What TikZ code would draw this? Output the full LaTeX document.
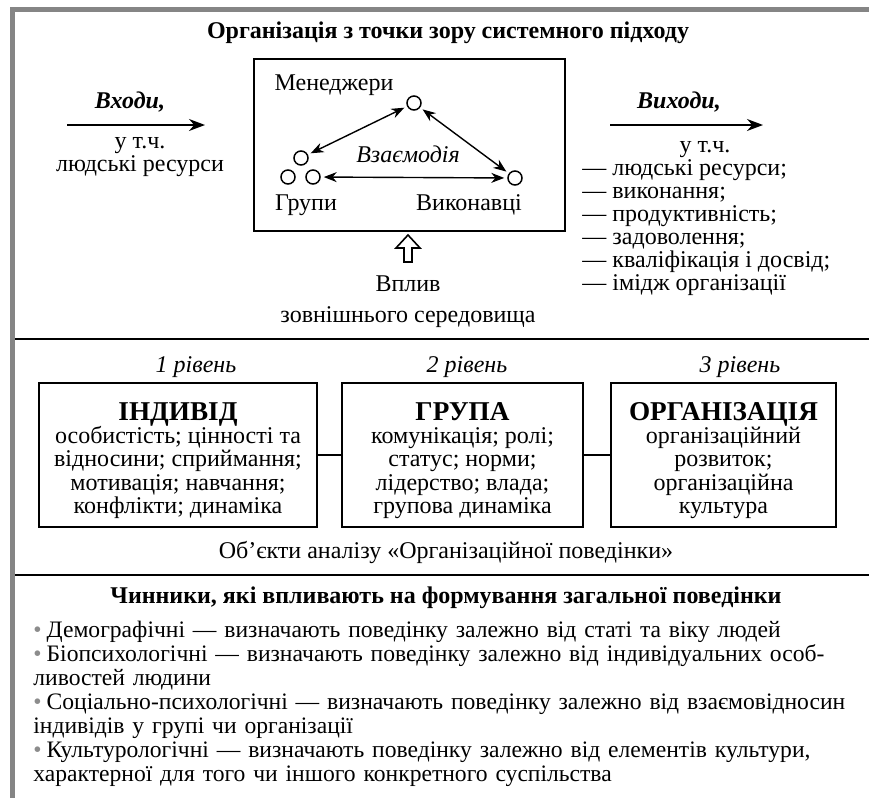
\documentclass[tikz,border=0pt]{standalone}
\usepackage{fontspec}
\setmainfont{Liberation Serif}
\usetikzlibrary{positioning,arrows.meta}
\definecolor{framegray}{HTML}{858585}
\definecolor{dotgray}{HTML}{8C8C8C}
\newcommand{\bodysize}{\fontsize{12pt}{11.5pt}\selectfont}
\newcommand{\boxsize}{\fontsize{12pt}{11.6pt}\selectfont}
\newcommand{\headsize}{\fontsize{13.6pt}{13pt}\selectfont\bfseries\rule{0pt}{14.5pt}}
\newcommand{\bul}{\textcolor{dotgray}{•}\kern2.5pt}
\newcommand{\fullline}[1]{\makebox[411pt][s]{#1}}
\tikzset{
  lbl/.style={inner sep=0pt, align=center, font=\bodysize},
  headtxt/.style={inner sep=0pt, font=\bodysize\bfseries},
  lvltxt/.style={inner sep=0pt, font=\bodysize\itshape},
  sysbox/.style={draw, line width=1pt, minimum width=155.5pt, minimum height=86pt},
  lvlbox/.style={draw, line width=1pt, minimum height=72pt, align=center,
    inner sep=0pt, font=\boxsize},
  actor/.style={circle, draw, line width=0.75pt, minimum size=7pt, inner sep=0pt},
  flow/.style={-{Stealth[length=8pt,width=6pt]}, line width=0.8pt},
  twoway/.style={{Stealth[length=6.5pt,width=5pt]}-{Stealth[length=6.5pt,width=5pt]},
    line width=0.7pt, shorten <=1.5pt, shorten >=1.5pt},
  divider/.style={line width=1pt},
  hollowup/.style={draw, line width=0.8pt, line join=miter},
}
\begin{document}
\begin{tikzpicture}[x=0.5pt,y=-0.5pt]
  \useasboundingbox (0,0) rectangle (869,798);
  % frame and section rules
  \draw[line width=2.5pt, framegray] (12.5,798) -- (12.5,9.5) -- (869,9.5);
  \draw[divider] (15,339) -- (869,339);
  \draw[divider] (15,575) -- (869,575);

  % system view
  \node[headtxt] (title) at (448,33) {Організація з точки зору системного підходу};
  \node[sysbox] (sys) at (409.5,145) {};
  \node[lbl, anchor=base] (mgrlab) at (334,90) {Менеджери};
  \node[actor] (mgr) at (414,103) {};
  \node[actor] (grpa) at (301,158) {};
  \node[actor] (grpb) at (288,177) {};
  \node[actor] (grpc) at (313,177) {};
  \node[actor] (exe) at (515,178) {};
  \node[lbl, anchor=base] (grplab) at (306,210) {Групи};
  \node[lbl, anchor=base] (exelab) at (469,210) {Виконавці};
  \node[lvltxt, anchor=base] (inter) at (408,162) {Взаємодія};
  \draw[twoway] (mgr) -- (grpa);
  \draw[twoway] (mgr) -- (exe);
  \draw[twoway] (grpc) -- (exe);
  % outside influence
  \coordinate (envtip) at (408,235);
  \draw[hollowup] (envtip) -- ++(12,13) -- ++(-8,0) -- ++(0,14) -- ++(-8,0)
    -- ++(0,-14) -- ++(-8,0) -- cycle;
  \node[lbl] (env) at (408,302) {Вплив\\[4pt]зовнішнього середовища};

  % inputs
  \node[headtxt, font=\bodysize\bfseries\itshape, anchor=base] (inlab) at (130,108) {Входи,};
  \coordinate (ina) at (67,125);
  \coordinate (inb) at (205,125);
  \draw[flow] (ina) -- (inb);
  \node[lbl, anchor=north] (intxt) at (140,137) {у т.ч.\\людські ресурси};
  % outputs
  \node[headtxt, font=\bodysize\bfseries\itshape, anchor=base] (outlab) at (679,108) {Виходи,};
  \coordinate (outa) at (610,125);
  \coordinate (outb) at (763,125);
  \draw[flow] (outa) -- (outb);
  \node[lbl, anchor=base] (outtxt) at (705,152) {у т.ч.};
  \node[lbl, align=left, anchor=north west] (outlist) at (582,159)
    {— людські ресурси;\\— виконання;\\— продуктивність;\\— задоволення;\\
     — кваліфікація і досвід;\\— імідж організації};

  % levels
  \node[lvltxt] (lv1) at (196,367) {1 рівень};
  \node[lvltxt] (lv2) at (467,367) {2 рівень};
  \node[lvltxt] (lv3) at (740,367) {3 рівень};
  \node[lvlbox, minimum width=139pt] (ind) at (178,455)
    {{\headsize ІНДИВІД}\\особистість; цінності та\\відносини; сприймання;\\
     мотивація; навчання;\\конфлікти; динаміка};
  \node[lvlbox, minimum width=120.5pt] (grp) at (462.5,455)
    {{\headsize ГРУПА}\\комунікація; ролі;\\статус; норми;\\лідерство; влада;\\
     групова динаміка};
  \node[lvlbox, minimum width=112.5pt] (org) at (723.5,455)
    {{\headsize ОРГАНІЗАЦІЯ}\\організаційний\\розвиток;\\організаційна\\культура};
  \draw[divider] (ind) -- (grp);
  \draw[divider] (grp) -- (org);
  \node[lbl] (objs) at (446,552) {Об’єкти аналізу «Організаційної поведінки»};

  % factors
  \node[headtxt] (factors) at (446,598) {Чинники, які впливають на формування загальної поведінки};
  \node[lbl, align=left, text width=411pt, anchor=north west,
    font=\fontsize{11.8pt}{12pt}\selectfont] (flist) at (33,621)
    {\bul Демографічні — визначають поведінку залежно від статі та віку людей\\
     \fullline{\bul Біопсихологічні — визначають поведінку залежно від індивідуальних особ-}\\
     ливостей людини\\
     \fullline{\bul Соціально-психологічні — визначають поведінку залежно від взаємовідносин}\\
     індивідів у групі чи організації\\
     \fullline{\bul Культурологічні — визначають поведінку залежно від елементів культури,}\\
     характерної для того чи іншого конкретного суспільства};
\end{tikzpicture}
\end{document}
